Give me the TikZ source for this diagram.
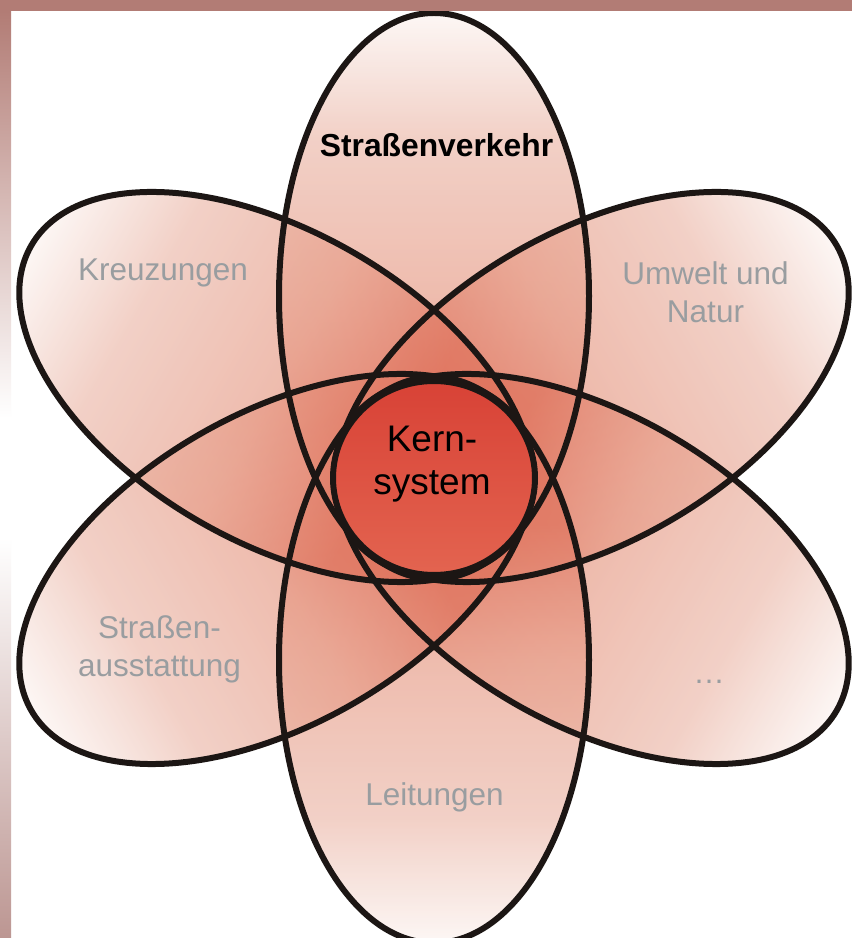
\documentclass[tikz,border=0pt]{standalone}
\usepackage{fontspec}
\setmainfont{Liberation Sans}
\definecolor{pin}{RGB}{224,116,94}
\definecolor{pmid}{RGB}{232,160,140}
\definecolor{pout1}{RGB}{237,189,175}
\definecolor{pout}{RGB}{252,244,241}
\definecolor{inkline}{RGB}{28,22,20}
\definecolor{labelgray}{RGB}{153,157,160}
\definecolor{coretop}{RGB}{216,66,54}
\definecolor{corebot}{RGB}{227,100,80}
\definecolor{bandc}{RGB}{178,124,117}
\definecolor{bandlow}{RGB}{188,150,146}
\pgfdeclarehorizontalshading{petal}{100bp}{color(0bp)=(pin); color(38bp)=(pin); color(50bp)=(pmid); color(64bp)=(pout1); color(75bp)=(pout); color(100bp)=(pout)}
\tikzset{
  petalline/.style={draw=inkline, line width=6pt},
  petalfill/.style={shading=petal, fill opacity=0.7},
  graylabel/.style={text=labelgray, font=\fontsize{31.5}{38}\selectfont, inner sep=0pt, align=center},
  boldlabel/.style={text=black, font=\bfseries\fontsize{31.8}{38}\selectfont, inner sep=0pt},
  corelabel/.style={text=black, font=\fontsize{37}{43}\selectfont, inner sep=0pt, align=center},
  coredisk/.style={ellipse, minimum width=202pt, minimum height=194pt, inner sep=0pt, draw=inkline, line width=6pt, top color=coretop, bottom color=corebot}
}
\usetikzlibrary{shapes.geometric}
\begin{document}
\begin{tikzpicture}[x=1pt,y=1pt]
\useasboundingbox (0,0) rectangle (852,938);
\clip (0,0) rectangle (852,938);
\fill[white] (0,0) rectangle (852,938);
\coordinate (O) at (434,460);
% petal fills
\foreach \a in {90,30,-30,-90,-150,150} {
  \begin{scope}[transform canvas={shift={({434+182*cos(\a)},{460+182*sin(\a)})}, rotate=\a}]
    \shade[petalfill] (0,0) ellipse [x radius=283pt, y radius=155pt];
  \end{scope}
}
% petal outlines
\foreach \a in {90,30,-30,-90,-150,150} {
  \draw[petalline, shift={({434+182*cos(\a)},{460+182*sin(\a)})}, rotate=\a] (0,0) ellipse [x radius=283pt, y radius=155pt];
}
% core
\node[coredisk] (core) at (O) {};
\node[corelabel] (kern) at (432,474) {Kern-\\system};
% labels
\node[boldlabel, anchor=base] (strassenverkehr) at (436.5,781) {Straßenverkehr};
\node[graylabel, anchor=base] (kreuzungen) at (163,657) {Kreuzungen};
\node[graylabel] (umwelt) at (705.5,645.5) {Umwelt und\\Natur};
\node[graylabel] (ausstattung) at (159.5,288.5) {Straßen-\\ausstattung};
\node[graylabel, anchor=base] (dots) at (709,254) {…};
\node[graylabel, anchor=base] (leitungen) at (434.5,132) {Leitungen};
% border bands
\fill[bandc] (0,927) rectangle (852,938);
\shade[top color=bandc, bottom color=white] (0,520) rectangle (11,927);
\fill[white] (0,400) rectangle (11,520);
\shade[top color=white, bottom color=bandlow] (0,0) rectangle (11,400);
\end{tikzpicture}
\end{document}
